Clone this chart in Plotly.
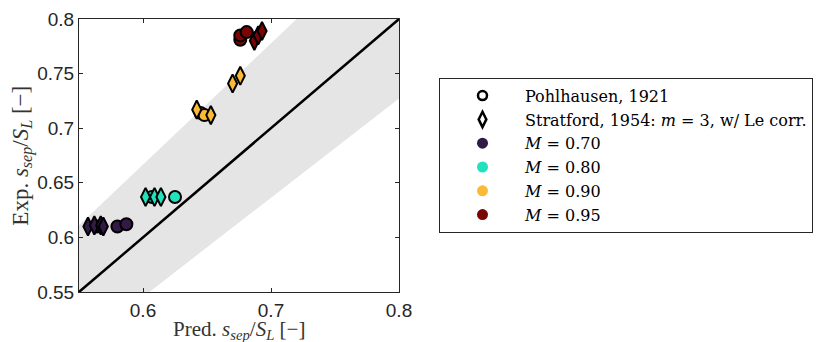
import plotly.graph_objects as go

# ---- data ----
mach_labels = ["<i>M</i> = 0.70", "<i>M</i> = 0.80", "<i>M</i> = 0.90", "<i>M</i> = 0.95"]
mach_colors = ["#321a46", "#22e1bd", "#fbba36", "#7a0505"]

# Pohlhausen, 1921 (circles)
pohl_x = [[0.564, 0.580, 0.587], [0.607, 0.625], [0.645, 0.648], [0.676, 0.676, 0.681]]
pohl_y = [[0.610, 0.610, 0.612], [0.637, 0.637], [0.714, 0.712], [0.781, 0.785, 0.788]]

# Stratford, 1954 (diamonds)
strat_x = [[0.557, 0.562, 0.567, 0.569], [0.602, 0.609, 0.614], [0.642, 0.653, 0.670, 0.676], [0.687, 0.690, 0.693]]
strat_y = [[0.610, 0.611, 0.611, 0.610], [0.637, 0.637, 0.637], [0.717, 0.712, 0.741, 0.748], [0.780, 0.785, 0.789]]

# reference lines / band
line_x = [0.5, 0.85]
band_hi = [0.5 / 0.9, 0.85 / 0.9]
band_lo = [0.5 / 1.1, 0.85 / 1.1]

x_ticks = [0.6, 0.7, 0.8]
y_ticks = [0.55, 0.6, 0.65, 0.7, 0.75, 0.8]

x_title = "Pred. <i>s</i><sub><i>sep</i></sub>/<i>S</i><sub><i>L</i></sub> [−]"
y_title = "Exp. <i>s</i><sub><i>sep</i></sub>/<i>S</i><sub><i>L</i></sub> [−]"

serif = "Liberation Serif"
leg_serif = "DejaVu Serif"
sans = "Liberation Sans"
axcol = "#262626"

fig = go.Figure()

# shaded band
fig.add_trace(go.Scatter(
    x=line_x + line_x[::-1], y=band_hi + band_lo[::-1],
    fill="toself", fillcolor="#e5e5e5", line=dict(width=0),
    mode="lines", showlegend=False, hoverinfo="skip"))

# diagonal
fig.add_trace(go.Scatter(x=line_x, y=line_x, mode="lines",
                         line=dict(color="black", width=2.5),
                         showlegend=False, hoverinfo="skip"))

for i in range(len(mach_labels)):
    fig.add_trace(go.Scatter(
        x=pohl_x[i], y=pohl_y[i], mode="markers", showlegend=False,
        marker=dict(symbol="circle", size=12, color=mach_colors[i],
                    line=dict(color="black", width=2))))
    fig.add_trace(go.Scatter(
        x=strat_x[i], y=strat_y[i], mode="markers", showlegend=False,
        marker=dict(symbol="diamond-tall", size=13, color=mach_colors[i],
                    line=dict(color="black", width=2))))

# legend entries
fig.add_trace(go.Scatter(x=[None], y=[None], mode="markers", name="Pohlhausen, 1921",
                         marker=dict(symbol="circle-open", size=9, color="black",
                                     line=dict(width=2.5, color="black"))))
fig.add_trace(go.Scatter(x=[None], y=[None], mode="markers",
                         name="Stratford, 1954: <i>m</i> = 3, w/ Le corr.",
                         marker=dict(symbol="diamond-tall-open", size=11, color="black",
                                     line=dict(width=2.5, color="black"))))
for i in range(len(mach_labels)):
    fig.add_trace(go.Scatter(x=[None], y=[None], mode="markers", name=mach_labels[i],
                             marker=dict(symbol="circle", size=11, color=mach_colors[i])))

fig.update_layout(
    width=824, height=342,
    margin=dict(l=79, r=424, t=19, b=50),
    paper_bgcolor="white", plot_bgcolor="white",
    showlegend=True,
    legend=dict(x=1.1215, y=0.785, xanchor="left", yanchor="top",
                bgcolor="white", bordercolor=axcol, borderwidth=1,
                font=dict(family=leg_serif, size=16, color="black"),
                itemwidth=75, tracegroupgap=0),
    xaxis=dict(range=[0.55, 0.8], tickvals=x_ticks, ticktext=["0.6", "0.7", "0.8"],
               ticks="inside", ticklen=4, tickcolor=axcol, showline=True, mirror="ticks",
               linecolor=axcol, linewidth=1, showgrid=False, zeroline=False,
               ticklabelstandoff=1, automargin=False,
               tickfont=dict(family=sans, size=19, color=axcol)),
    yaxis=dict(range=[0.55, 0.8], tickvals=y_ticks,
               ticktext=["0.55", "0.6", "0.65", "0.7", "0.75", "0.8"],
               ticks="inside", ticklen=4, tickcolor=axcol, showline=True, mirror="ticks",
               linecolor=axcol, linewidth=1, showgrid=False, zeroline=False,
               automargin=False,
               tickfont=dict(family=sans, size=19, color=axcol)),
    annotations=[
        dict(text=x_title, xref="paper", yref="paper", x=0.5, y=-0.141,
             xanchor="center", yanchor="middle", showarrow=False,
             font=dict(family=serif, size=21, color="#333333")),
        dict(text=y_title, xref="paper", yref="paper", x=-0.1776, y=0.5,
             xanchor="center", yanchor="middle", textangle=-90, showarrow=False,
             font=dict(family=serif, size=23, color="#333333")),
    ],
)

fig.write_html("out.html")
